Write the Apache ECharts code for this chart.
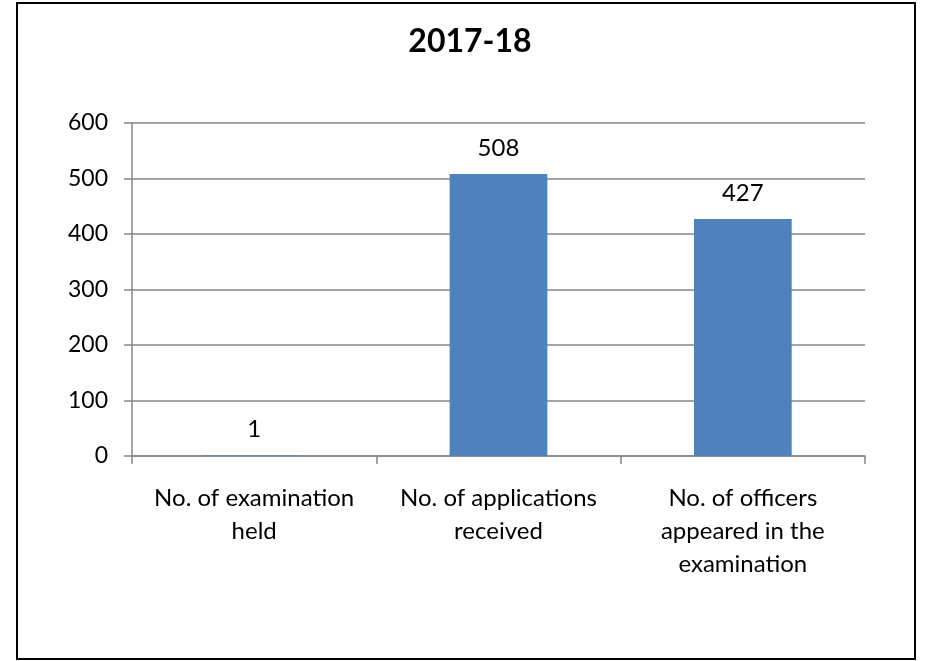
<!DOCTYPE html>
<html>
<head>
<meta charset="utf-8">
<script src="https://cdn.jsdelivr.net/npm/echarts@6/dist/echarts.min.js"></script>
<style>
html,body{margin:0;padding:0;background:#fff;}
#c{width:925px;height:661px;}
</style>
</head>
<body>
<div id="c"></div>
<script>
const title = '2017-18';
const categories = ['No. of examination\nheld', 'No. of applications\nreceived', 'No. of officers\nappeared in the\nexamination'];
const values = [1, 508, 427];
const yTicks = [0, 100, 200, 300, 400, 500, 600];

const chart = echarts.init(document.getElementById('c'), null, {renderer: 'canvas'});
const font = 'Lato, "Open Sans", sans-serif';
chart.setOption({
  animation: false,
  backgroundColor: '#fff',
  title: {
    text: title, left: 465, top: 21, textAlign: 'center',
    textStyle: {fontFamily: font, fontSize: 32, fontWeight: 'bold', color: '#000'}
  },
  graphic: [{
    type: 'rect', shape: {x: 17, y: 3, width: 898, height: 656},
    style: {fill: 'none', stroke: '#000', lineWidth: 2}, silent: true, z: 100
  }],
  grid: {left: 132, right: 60, top: 123, bottom: 205, containLabel: false},
  xAxis: {
    type: 'category', data: categories,
    axisLine: {lineStyle: {color: '#868686', width: 1.5}},
    axisTick: {show: true, length: 8, alignWithLabel: false, lineStyle: {color: '#868686', width: 1.5}},
    axisLabel: {fontFamily: font, fontSize: 24, color: '#000', lineHeight: 33, margin: 26, interval: 0}
  },
  yAxis: {
    type: 'value', min: yTicks[0], max: yTicks[yTicks.length - 1], interval: 100,
    axisLine: {show: true, lineStyle: {color: '#868686', width: 1.5}},
    axisTick: {show: true, length: 8, lineStyle: {color: '#868686', width: 1.5}},
    splitLine: {lineStyle: {color: '#868686', width: 1.5}},
    axisLabel: {fontFamily: font, fontSize: 23, color: '#000', margin: 24}
  },
  series: [{
    type: 'bar', data: values, barWidth: '40%',
    itemStyle: {color: '#4F81BD'},
    label: {show: true, position: 'top', distance: 14, fontFamily: font, fontSize: 24, color: '#000'}
  }]
});
</script>
</body>
</html>
